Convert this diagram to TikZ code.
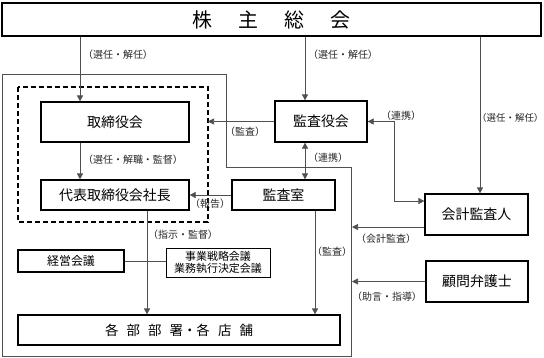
\documentclass[tikz,border=0pt]{standalone}
\usepackage{fontspec}
\setmainfont{Noto Sans CJK JP}
\usetikzlibrary{arrows.meta}
\definecolor{conn}{RGB}{80,80,80}
\begin{document}
\begin{tikzpicture}[x=1bp,y=-1bp,
  box/.style={draw=black,line width=1.2bp,inner sep=0pt,align=center,font=\fontsize{14}{16}\selectfont},
  lab/.style={inner sep=0pt,anchor=west,font=\fontsize{10}{11}\selectfont,text=black!85},
  conline/.style={draw=conn,line width=0.7bp},
  arr/.style={conline,-{Triangle[length=6bp,width=6bp]}},
  darr/.style={conline,{Triangle[length=6bp,width=6bp]}-{Triangle[length=6bp,width=6bp]}}]
\useasboundingbox (0,0) rectangle (544,357);
% outer frame
\draw[conline] (2,74) -- (226,74) -- (226,167) -- (351,167) -- (351,356) -- (2,356) -- cycle;
% dashed frame
\draw[line width=1.3bp,dash pattern=on 5bp off 3bp] (18,87) rectangle (208,222);
\coordinate (dashE) at (208,121);
% boxes
\node[box,minimum width=539bp,minimum height=33bp,font=\fontsize{20}{22}\selectfont] (kabu) at (271.5,19.5) {株\hspace{1.3em}主\hspace{1.3em}総\hspace{1.3em}会};
\node[box,minimum width=148bp,minimum height=40bp] (tori) at (115,122) {取締役会};
\node[box,minimum width=148bp,minimum height=30bp] (daihyo) at (115,195) {代表取締役会社長};
\node[box,minimum width=92bp,minimum height=41bp] (kyaku) at (321,121.5) {監査役会};
\node[box,minimum width=103bp,minimum height=30bp] (kshitsu) at (283.5,195) {監査室};
\node[box,minimum width=103bp,minimum height=41bp] (kaikei) at (476.5,214.5) {会計監査人};
\node[box,minimum width=102bp,minimum height=41bp] (komon) at (477,281.5) {顧問弁護士};
\node[box,minimum width=106bp,minimum height=22bp,font=\fontsize{12}{14}\selectfont] (keiei) at (71,261) {経営会議};
\node[box,minimum width=104bp,minimum height=29bp,line width=1bp,font=\fontsize{11}{12.5}\selectfont] (jigyo) at (218,262.5) {事業戦略会議\\業務執行決定会議};
\node[box,minimum width=322bp,minimum height=30bp,font=\fontsize{13.5}{15}\selectfont] (kakubu) at (179,330) {各\hspace{0.6em}部\hspace{0.6em}部\hspace{0.6em}署・各\hspace{0.6em}店\hspace{0.6em}舗};
% helper coordinates
\coordinate (c1) at (80,0);
\coordinate (c2) at (305,0);
\coordinate (c3) at (480,0);
\coordinate (c7) at (147,0);
\coordinate (c8) at (315,0);
\coordinate (k1) at (394,201);
\coordinate (ka) at (352,227);
\coordinate (ko) at (352,281.5);
% connectors
\draw[arr] (kabu.south -| c1) -- (tori.north -| c1);
\draw[arr] (kabu.south -| c2) -- (kyaku.north -| c2);
\draw[arr] (kabu.south -| c3) -- (kaikei.north -| c3);
\draw[arr] (tori.south -| c1) -- (daihyo.north -| c1);
\draw[arr] (kyaku.west) -- (kyaku.west -| dashE);
\draw[arr] (kshitsu.west) -- (daihyo.east);
\draw[darr] (kyaku.south -| c2) -- (kshitsu.north -| c2);
\draw[darr] (kyaku.east) -| (k1) -- (k1 -| kaikei.west);
\draw[arr] (kaikei.west |- ka) -- (ka);
\draw[arr] (komon.west) -- (ko);
\draw[conline] (keiei.east) -- (keiei.east -| jigyo.west);
\draw[arr] (daihyo.south -| c7) -- (kakubu.north -| c7);
\draw[arr] (kshitsu.south -| c8) -- (kakubu.north -| c8);
% labels
\node[lab] (l1) at (83,55) {（選任・解任）};
\node[lab] (l2) at (308,55) {（選任・解任）};
\node[lab,font=\fontsize{9.5}{11}\selectfont] (l3) at (477,118) {（選任・解任）};
\node[lab] (l4) at (83,160) {（選任・解職・監督）};
\node[lab] (l5) at (225,132) {（監査）};
\node[lab] (l6) at (190,204) {（報告）};
\node[lab] (l7) at (308,158) {（連携）};
\node[lab] (l8) at (381,116) {（連携）};
\node[lab] (l9) at (356,239) {（会計監査）};
\node[lab] (l10) at (352,297) {（助言・指導）};
\node[lab] (l11) at (148,235) {（指示・監督）};
\node[lab] (l12) at (312,252) {（監査）};
\end{tikzpicture}
\end{document}
